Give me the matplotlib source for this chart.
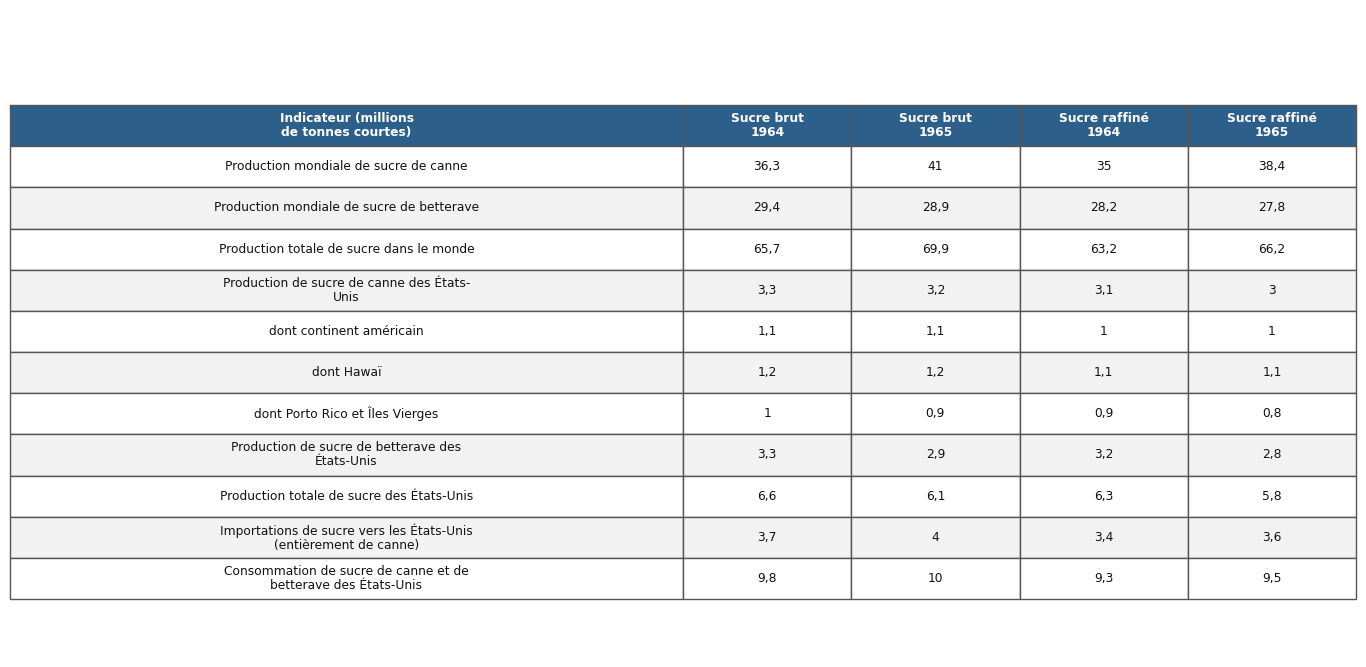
import matplotlib
matplotlib.use("Agg")
import matplotlib.pyplot as plt

# Table content
col_labels = [
    "Indicateur (millions\nde tonnes courtes)",
    "Sucre brut\n1964",
    "Sucre brut\n1965",
    "Sucre raffiné\n1964",
    "Sucre raffiné\n1965",
]
indicators = [
    "Production mondiale de sucre de canne",
    "Production mondiale de sucre de betterave",
    "Production totale de sucre dans le monde",
    "Production de sucre de canne des États-\nUnis",
    "dont continent américain",
    "dont Hawaï",
    "dont Porto Rico et Îles Vierges",
    "Production de sucre de betterave des\nÉtats-Unis",
    "Production totale de sucre des États-Unis",
    "Importations de sucre vers les États-Unis\n(entièrement de canne)",
    "Consommation de sucre de canne et de\nbetterave des États-Unis",
]
raw_1964 = ["36,3", "29,4", "65,7", "3,3", "1,1", "1,2", "1", "3,3", "6,6", "3,7", "9,8"]
raw_1965 = ["41", "28,9", "69,9", "3,2", "1,1", "1,2", "0,9", "2,9", "6,1", "4", "10"]
ref_1964 = ["35", "28,2", "63,2", "3,1", "1", "1,1", "0,9", "3,2", "6,3", "3,4", "9,3"]
ref_1965 = ["38,4", "27,8", "66,2", "3", "1", "1,1", "0,8", "2,8", "5,8", "3,6", "9,5"]

header_color = "#2d5f8b"
stripe_color = "#f2f2f2"
edge_color = "#555555"

fig = plt.figure(figsize=(13.66, 6.67), dpi=100)
ax = fig.add_axes([0, 0, 1, 1])
ax.axis("off")

cell_text = [list(r) for r in zip(indicators, raw_1964, raw_1965, ref_1964, ref_1965)]

left, right = 10 / 1366, 1356 / 1366
top, bottom = 1 - 105 / 667, 1 - 599 / 667
tbl = ax.table(
    cellText=cell_text,
    colLabels=col_labels,
    colWidths=[0.5, 0.125, 0.125, 0.125, 0.125],
    cellLoc="center",
    bbox=[left, bottom, right - left, top - bottom],
)
tbl.auto_set_font_size(False)
tbl.set_fontsize(8.8)

for (r, c), cell in tbl.get_celld().items():
    cell.set_edgecolor(edge_color)
    cell.set_linewidth(1.0)
    txt = cell.get_text()
    txt.set_linespacing(1.1)
    if r == 0:
        cell.set_facecolor(header_color)
        txt.set_color("white")
        txt.set_fontweight("bold")
    else:
        cell.set_facecolor(stripe_color if r % 2 == 0 else "white")
        txt.set_color("#111111")

fig.savefig("out.png", dpi=100)
